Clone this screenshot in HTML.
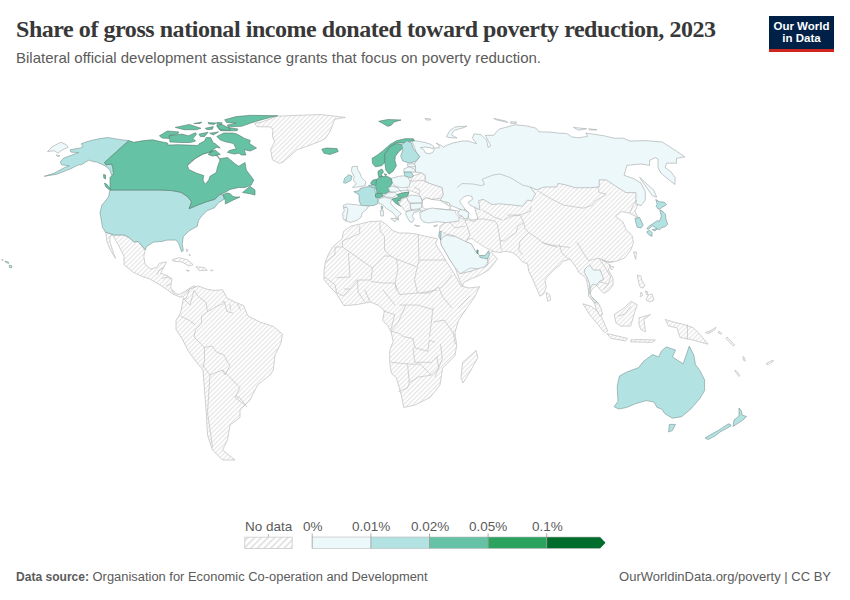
<!DOCTYPE html>
<html><head><meta charset="utf-8">
<style>
html,body{margin:0;padding:0;background:#fff;width:850px;height:600px;overflow:hidden;}
body{position:relative;font-family:"Liberation Sans",sans-serif;}
.t{position:absolute;white-space:nowrap;}
#title{left:16px;top:16px;font-family:"Liberation Serif",serif;font-weight:bold;font-size:24px;letter-spacing:-0.45px;color:#383838;}
#sub{left:16px;top:48.5px;font-size:15px;color:#5b5b5b;}
#logo{position:absolute;left:769px;top:16px;width:65px;height:36px;background:#002147;}
#logo .red{position:absolute;left:0;bottom:0;width:65px;height:3px;background:#ce261e;}
#logo .l1,#logo .l2{position:absolute;left:0;width:65px;text-align:center;color:#fff;font-weight:bold;font-size:11.5px;line-height:12px;}
#logo .l1{top:4px;}
#logo .l2{top:15.8px;}
#foot1{left:16px;top:569px;font-size:12.92px;color:#5b5b5b;}
#foot2{right:19px;top:569px;font-size:13px;color:#5b5b5b;}
.lg{position:absolute;font-size:13.5px;color:#5b5b5b;top:518.5px;}
svg{position:absolute;left:0;top:0;}
</style></head><body>
<div class="t" id="title">Share of gross national income donated toward poverty reduction, 2023</div>
<div class="t" id="sub">Bilateral official development assistance grants that focus on poverty reduction.</div>
<div id="logo"><div class="l1">Our World</div><div class="l2">in Data</div><div class="red"></div></div>

<svg width="850" height="600" viewBox="0 0 850 600">
<defs>
<pattern id="hatch" patternUnits="userSpaceOnUse" width="3.3" height="3.3" patternTransform="rotate(45)">
<rect width="3.3" height="3.3" fill="#fff"/>
<rect x="0" y="0" width="1.2" height="3.3" fill="#e6e6e6"/>
</pattern>
<pattern id="hatch2" patternUnits="userSpaceOnUse" width="4.7" height="4.7" patternTransform="rotate(45)">
<rect width="4.7" height="4.7" fill="#fff"/>
<rect x="0" y="0" width="1.8" height="4.7" fill="#e2e2e2"/>
</pattern>
</defs>
<g id="map" stroke-linejoin="round">
<path d="M254.7 123.3 L261.8 122.1 L277 116.2 L299.4 115.3 L320.6 114.5 L345.3 117.4 L334.7 119.2 L332.4 125.6 L330 131.5 L325.3 138.6 L318.2 142.1 L305.3 146.8 L297 149.8 L283 162.1 L279.4 163.3 L272.4 159.8 L270.6 149.2 L274.7 142.1 L272.4 136.2 L273 129.2 L270 126.8 L257 126.8 Z" fill="url(#hatch)" stroke="#bdbdbd" stroke-width="0.7"/>
<path d="M105.6 232.2 L114.1 235 L124 235 L129.7 237.9 L133.9 242.1 L138.1 241.4 L142.4 246.4 L145.2 249.9 L143.8 256.2 L145.2 264.7 L150.8 269 L156.5 267.5 L159.3 263.3 L166.4 261.9 L163.6 267.5 L160.7 273.2 L167.8 276 L172 278.8 L170.6 287.3 L173.4 293 L179.1 294.4 L184.7 291.6 L193.2 285.9 L198.9 287.3 L189.5 289 L183.5 296.5 L180.5 297.2 L173.4 294.4 L167.8 290.1 L159.3 284.5 L149.4 278.8 L141 276 L132.5 271.8 L124 264.7 L124 256.2 L118.4 245 L112.7 235 L110 236 L109.9 242.1 L112.7 250.6 L115.5 258.4 L114.1 256.2 L109.9 249.2 L107.1 242.1 Z" fill="url(#hatch)" stroke="#bdbdbd" stroke-width="0.7"/>
<path d="M172 259.8 L179.1 257.7 L187.6 259.8 L193.2 264.7 L189 266.1 L181.9 261.9 L173.4 261.2 Z" fill="url(#hatch)" stroke="#bdbdbd" stroke-width="0.7"/>
<path d="M196 266.8 L204.5 267.5 L207.3 270.4 L198.9 270.4 Z" fill="url(#hatch)" stroke="#bdbdbd" stroke-width="0.7"/>
<path d="M186.2 270 L189.5 270.5 L188 271.5 Z" fill="url(#hatch)" stroke="#bdbdbd" stroke-width="0.7"/>
<path d="M210.5 270 L213 270.2 L212 271.2 Z" fill="url(#hatch)" stroke="#bdbdbd" stroke-width="0.7"/>
<path d="M110 190 L160 190 L171.7 190.6 L181 192.3 L188 197 L191.5 201.7 L189.2 208.7 L197.3 205.2 L206.6 201.7 L214.8 199.3 L219.5 194.7 L223 194.7 L224.1 199.3 L218.3 202.8 L214.8 207.5 L206.6 211 L202 215.7 L198.5 220.3 L197.3 226.2 L189.2 230.8 L183.3 236.6 L182.2 243.6 L183.3 250.6 L181.6 251.8 L178.7 243.6 L176.3 240.1 L167 240.1 L162.1 241.4 L153.7 242.1 L146.6 246.4 L145.2 249.9 L142.4 246.4 L138.1 241.4 L133.9 242.1 L129.7 237.9 L124 235 L114.1 235 L105.6 232.2 L102.5 227.5 L100 212.5 L102 205 L108.5 197 L110 190 Z" fill="#b2e2e2" stroke="#7c9292" stroke-width="0.6"/>
<path d="M44.2 176.3 L54.1 173.3 L64.5 167.6 L69.2 165.8 L61.6 164.8 L60.2 162 L63.5 158.2 L71 155.4 L78.6 152.6 L71 152.1 L70.1 149.8 L80.5 147.9 L82.8 147 L81.4 143.6 L89.9 140.8 L100.2 138.5 L107.8 137.5 L118.75 139.4 L128.75 140.6 L104.5 162.5 L105.9 164.8 L111.5 163.9 L112.9 167.6 L113.4 172.4 L114.4 174.2 L111.5 175.2 L109.6 169.5 L105 165.8 L96.5 162 L92.7 161.5 L88.9 160.1 L81.4 164.8 L78.6 164.8 L71 168.6 L56.9 174.2 Z" fill="#b2e2e2" stroke="#7c9292" stroke-width="0.6"/>
<path d="M128.75 140.6 L133.75 142.25 L143.75 140.6 L152.5 139.75 L160.3 141.6 L167.4 142.9 L168.2 145.1 L178 144.7 L188.5 145.1 L198.2 145.5 L199.1 143.8 L204.4 141.1 L206.2 137.6 L210.6 137.6 L213.3 142.9 L215 143.5 L220.3 148 L216.8 147.3 L212.4 150 L208 153.5 L199.1 156.1 L190.3 162 L187.5 165.6 L195 158.75 L202.5 154.4 L208.75 152.5 L212.5 150 L220 158.75 L227.5 157.5 L235 163.75 L238.75 166.25 L245 162.5 L246.25 170 L250 175 L253.75 180 L251.25 185 L245 187.5 L238.75 187.5 L230 189.4 L225.3 192.3 L219.5 194.7 L214.8 199.3 L206.6 201.7 L197.3 205.2 L189.2 208.7 L191.5 201.7 L188 197 L181 192.3 L171.7 190.6 L160 190 L110 190 L110 185 L110 177.5 L113.75 173.75 L113.4 172.4 L112.9 167.6 L111.5 163.9 L105.9 164.8 L104.5 162.5 Z" fill="#66c2a4" stroke="#577a6e" stroke-width="0.6"/>
<path d="M187.5 165.6 L195 158.75 L202.5 154.4 L208.75 152.5 L217.5 156.25 L220 160 L217.5 166.9 L216.25 172.5 L210 176.25 L208.75 180 L205 184.4 L203 180 L203.75 175.6 L196.25 173.1 L188.75 169.4 Z" fill="#ffffff" stroke="#577a6e" stroke-width="0.6"/>
<path d="M242.5 192.5 L250 186.25 L255 190 L255 195 L250 193.75 Z" fill="#66c2a4" stroke="#577a6e" stroke-width="0.6"/>
<path d="M223 194.7 L227 193 L230 193.5 L232.3 196 L235 197 L240 197 L232.3 200.5 L225.3 204 L225.3 200.5 Z" fill="#66c2a4" stroke="#577a6e" stroke-width="0.6"/>
<path d="M224.7 119.7 L236.2 116.6 L250.3 115.3 L277.7 115.7 L269.7 117.5 L255.6 121.5 L250.3 123.2 L241.5 126.3 L228.2 126.8 L227.4 125 L236.2 123.2 L226.5 122.4 Z" fill="#66c2a4" stroke="#577a6e" stroke-width="0.6"/>
<path d="M216.8 125.9 L223.8 126.8 L237.9 129 L237.1 130.7 L220.3 130.7 L218.5 128.5 Z" fill="#66c2a4" stroke="#577a6e" stroke-width="0.6"/>
<path d="M216.8 122.4 L222.1 122.8 L221.2 124.6 L216.8 124.1 Z" fill="#66c2a4" stroke="#577a6e" stroke-width="0.6"/>
<path d="M216.8 136.5 L223.8 133 L232.7 133 L236.2 133.8 L239.7 135.6 L244.1 138.2 L250.3 140.4 L249.4 143.5 L256.5 148 L250.3 151 L244.1 149.7 L245.9 155 L241.5 155 L238.8 153.2 L234.4 154.1 L227.4 152.4 L229.1 150.6 L236.2 148.8 L233.5 143.5 L225.6 141.8 L220.3 140 Z" fill="#66c2a4" stroke="#577a6e" stroke-width="0.6"/>
<path d="M159.4 135.8 L167.4 131 L178.8 131.9 L178 133.6 L170 135.4 L169.1 138.5 L162.1 138 Z" fill="#66c2a4" stroke="#577a6e" stroke-width="0.6"/>
<path d="M169.1 135.8 L181.5 134.1 L188.5 135.8 L195.6 132.7 L196.5 134.1 L193 138.5 L195.6 141.1 L190.3 142.5 L181.5 142.5 L170 142 Z" fill="#66c2a4" stroke="#577a6e" stroke-width="0.6"/>
<path d="M175.3 127.4 L189.4 124.4 L200.9 128.3 L196.5 129.7 L184.1 129.7 L180.6 128.8 Z" fill="#66c2a4" stroke="#577a6e" stroke-width="0.6"/>
<path d="M193.8 123.5 L201.8 122.1 L200 123.5 Z" fill="#66c2a4" stroke="#577a6e" stroke-width="0.6"/>
<path d="M208 122.6 L215.9 123 L214.1 124.4 L208.8 123.9 Z" fill="#66c2a4" stroke="#577a6e" stroke-width="0.6"/>
<path d="M205.3 128.3 L213.3 126.6 L212.4 129.2 L207.1 129.7 Z" fill="#66c2a4" stroke="#577a6e" stroke-width="0.6"/>
<path d="M216.8 125.2 L222.1 124.4 L230 128.8 L230 130.5 L220.3 129.7 Z" fill="#66c2a4" stroke="#577a6e" stroke-width="0.6"/>
<path d="M199.1 134.1 L208 132.3 L204.4 136.7 L200 136.3 Z" fill="#66c2a4" stroke="#577a6e" stroke-width="0.6"/>
<path d="M209.7 133.2 L218.5 131.9 L213.3 135 Z" fill="#66c2a4" stroke="#577a6e" stroke-width="0.6"/>
<path d="M208 154.4 L215 150 L220.3 154.4 L212.4 156.1 Z" fill="#66c2a4" stroke="#577a6e" stroke-width="0.6"/>
<path d="M321.8 149.2 L326.5 148 L337 148.6 L338.2 151.5 L330 154.5 L324 153.3 Z" fill="#66c2a4" stroke="#577a6e" stroke-width="0.6"/>
<path d="M47.5 151.6 L52 147 L60.7 142.2 L66 144.5 L68.2 147.4 L62.6 149.8 L57.9 153.1 L54.1 150.7 Z" fill="#edf8fb" stroke="#9a9d9e" stroke-width="0.55"/>
<path d="M56 155 L60 155.5 L58 157 Z" fill="#edf8fb" stroke="#9a9d9e" stroke-width="0.55"/>
<path d="M104.5 183 L107 184.5 L110.5 189 L109.5 190 L105.5 186.5 Z" fill="#66c2a4" stroke="#577a6e" stroke-width="0.6"/>
<path d="M103.5 174.5 L105.5 175 L105.5 179 L103.8 178 Z" fill="#66c2a4" stroke="#577a6e" stroke-width="0.6"/>
<path d="M186 249 L188 250 L187 252 Z" fill="url(#hatch)" stroke="#bdbdbd" stroke-width="0.7"/>
<path d="M189 254 L190.5 255 L189.5 256 Z" fill="url(#hatch)" stroke="#bdbdbd" stroke-width="0.7"/>
<path d="M186.2 298.6 L189.5 289 L198.5 286 L206 289 L215 290.5 L222.5 289.7 L227 298 L236 302.5 L243.5 305.5 L248 316 L260 322 L273.4 326.5 L282.4 334 L281 343 L275 355 L273.4 370 L270 375 L257.5 385 L250 400 L240 410 L240 417.5 L230 425 L227.5 440 L222.5 450 L235 460 L222.5 460 L212.5 450 L207.5 435 L206.25 412.5 L203.75 380 L203 370 L195.5 361 L188 350.5 L182 338.5 L176 329.5 L176 320.5 L180.5 313 L183.5 298 Z" fill="url(#hatch)" stroke="#bdbdbd" stroke-width="0.7"/>
<path d="M351 226.2 L360 224 L369 221.7 L381 221 L385.5 224 L387.7 225.6 L393 230.8 L399.3 233 L407.8 233 L416.3 234 L424.7 236.1 L437.5 238.75 L435.5 243.75 L441 252.5 L447 262.5 L453.5 272.5 L458.5 281.25 L461 286 L469 288 L479.6 286.7 L474.3 297.6 L465.5 310 L458.5 320.6 L454.9 332.9 L456.7 345.3 L454.9 355.8 L442.6 368.2 L440.8 380 L440 385 L430 397.5 L415 405 L403.75 407.5 L401.25 395 L396.25 377.5 L391.4 373.5 L389.7 362.9 L389.7 350.5 L393.2 341.7 L391.4 332.9 L387.9 325.9 L382.6 320.6 L384.4 310.9 L379.1 305.6 L370.3 302 L356.2 304.7 L343.8 305.6 L336 293 L330 287 L324 279.5 L324 270.5 L325.5 261.5 L328.5 254 L333 246.5 L342 239 L343.5 231.5 Z" fill="url(#hatch)" stroke="#bdbdbd" stroke-width="0.7"/>
<path d="M462.5 362.5 L476.1 350.5 L477.9 357.6 L469 373.5 L463 383 L461 378 Z" fill="url(#hatch)" stroke="#bdbdbd" stroke-width="0.7"/>
<path d="M445 200 L445 176 L600 175 L645 195 L638 204 L635 211.5 L638 217.5 L629 213 L621.5 211.5 L615.5 216 L623 222 L626 229.5 L632 235.5 L633.5 243 L630.5 250.5 L624.5 258 L617 261 L609.5 262.5 L602 259.5 L610.7 265.3 L608.3 270 L613 278.2 L613 285.2 L608.3 291 L603.7 293.3 L600.2 289.8 L596.7 285.2 L591.25 290 L590 295 L595 300 L597.5 302.5 L600 306 L596 305 L590 297 L587.5 285 L586.25 278.75 L582.5 275 L578.75 272.5 L576.25 267.5 L572.5 262.5 L570 258.75 L567.5 260 L562.5 261.25 L560 265 L555 268.75 L548.75 275 L545 280 L546.25 287.5 L543.75 293.75 L540 296.25 L536.25 287.5 L532.5 278.75 L528.75 271.25 L527.5 263.75 L522.5 261.9 L517.5 256.25 L512.5 252.5 L505 251.25 L500 252.5 L491.25 251.25 L491.25 252.5 L497.5 258.75 L493.75 263.75 L488.75 270 L480 275 L471.25 278.75 L463.75 282.5 L462.5 286.25 L460 281.25 L455 267.5 L450 260 L445 251.25 L441.25 245 L439.4 231.9 L440 226 L445 223 L449.5 210 Z" fill="url(#hatch)" stroke="#bdbdbd" stroke-width="0.7"/>
<path d="M546.25 292.5 L550 295 L550.6 300 L547.5 301.25 Z" fill="url(#hatch)" stroke="#bdbdbd" stroke-width="0.7"/>
<path d="M633.5 252 L636.5 252 L635.7 259.5 Z" fill="url(#hatch)" stroke="#bdbdbd" stroke-width="0.7"/>
<path d="M609.5 265.5 L614 267 L611.7 270 Z" fill="url(#hatch)" stroke="#bdbdbd" stroke-width="0.7"/>
<path d="M466.25 241.9 L468 239 L472 238.6 L479 243.5 L486 248 L490 249.5 L492.5 251 L489 254 L485 255.6 L479.4 255.6 L476.25 252.5 L471.25 243.75 Z" fill="#ffffff" stroke="#bdbdbd" stroke-width="0.6"/>
<path d="M440.6 240 L443.75 236.25 L448.75 234.4 L455 236.25 L466.25 241.9 L471.25 243.75 L476.25 252.5 L480 255.6 L487.5 258.75 L488.1 263.75 L485 266.9 L477.5 268.75 L471.25 271.25 L465 272.5 L460 273.75 L455 267.5 L450 260 L445 251.25 L441.25 245 Z" fill="#edf8fb" stroke="#9a9d9e" stroke-width="0.55"/>
<path d="M479.4 255.6 L485 255.6 L488.75 250.6 L489.4 255 L487.5 258.75 L480 257.5 Z" fill="#b2e2e2" stroke="#7c9292" stroke-width="0.6"/>
<path d="M476.9 250 L478.1 250 L478.1 253.75 L476.9 253.1 Z" fill="#66c2a4" stroke="#577a6e" stroke-width="0.6"/>
<path d="M439.4 231.9 L441.25 231.25 L440.6 240 L438.75 236.25 Z" fill="#b2e2e2" stroke="#7c9292" stroke-width="0.6"/>
<path d="M412.1 140.5 L419.7 141.4 L425.6 142.6 L430.9 144.4 L433.8 146.7 L433.2 148.5 L426 147 L420.3 147.6 L423.8 149.6 L425 152.6 L428.5 153.8 L432.6 152.6 L433.8 150.8 L434.4 147.9 L439.1 147.9 L439.1 145.5 L436.2 143.2 L441.5 145.5 L443.2 147.3 L446.2 145.5 L452.7 143.1 L462.6 141 L468.2 141 L476.7 143.8 L472.5 138.1 L473.9 133.9 L481 134.6 L486.6 140.2 L488 147.3 L490.8 145.9 L485.2 135.3 L493.7 135.3 L496.5 131.8 L499.3 129 L507.8 126.8 L514.9 124.7 L521.9 125.4 L527.6 126.1 L536 128.2 L538.9 131.8 L550 132.1 L558.5 133.1 L566.9 133.5 L571.6 136.8 L578.2 137.8 L587.6 136.4 L585.8 133.1 L592.4 134 L604.6 135.9 L614 138.2 L623.4 138.2 L630 141.1 L645.3 140.6 L662.3 142 L676.5 151.2 L685 156.9 L676.5 158.3 L676.5 163.2 L666.6 163.2 L665.2 167.5 L670.8 171.7 L675 177.4 L675 184.5 L669.4 180.2 L660.9 173.2 L658 167.5 L658 159 L655.2 157.6 L649.6 160.4 L649.6 165.4 L641 164 L626.9 165.4 L624.1 175.3 L634 178.8 L641 183.1 L645.3 191.6 L645.3 200.1 L641 205.7 L635.9 203.9 L635.9 192.6 L626 192.6 L614.7 185.5 L606.3 179.9 L599.2 179.9 L599.2 187 L590.7 187.7 L575.2 187.7 L565.3 184.8 L558.2 183.4 L556.8 187 L544.1 187 L537 189.8 L530 187 L535.6 194 L531.4 201 L527.5 200 L522.5 206.25 L512.5 205 L500 203.8 L492 204.5 L483 199.3 L478.5 200.8 L480 209.8 L474.8 207.5 L468 210 L465 209 L462.8 211.3 L459.8 209 L450 205.3 L449.5 203 L440 200.4 L443.1 195.1 L442.1 187.7 L429.4 183.5 L425 181 L425 175.3 L421.9 173.1 L415.5 172.1 L415.5 166.8 L414.4 163.8 L416.2 161.4 L419.7 156.7 L416.2 152 L413.8 145.5 L412.1 142 Z" fill="#edf8fb" stroke="#9a9d9e" stroke-width="0.55"/>
<path d="M456.9 187.7 L462.2 183.5 L472.8 184 L481.3 185.6 L484.4 184.5 L482.3 179.2 L492.9 175 L500 174 L510 177.5 L522.5 185 L530 187" fill="none" stroke="#9a9d9e" stroke-width="0.5"/>
<path d="M446.4 136.7 L449.9 130.4 L455.5 126.8 L466.8 126.1 L464 127.5 L454.1 130.4 L451.3 134.6 L457 138.1 L448.5 137.4 Z" fill="#edf8fb" stroke="#9a9d9e" stroke-width="0.55"/>
<path d="M493.7 118.4 L506.4 121.2 L507.8 122.6 L496.5 119.8 Z" fill="#edf8fb" stroke="#9a9d9e" stroke-width="0.55"/>
<path d="M510.6 121.9 L516.3 121.9 L516.3 123.3 L510.6 123.3 Z" fill="#edf8fb" stroke="#9a9d9e" stroke-width="0.55"/>
<path d="M573.5 127.4 L586.7 128.8 L578.2 130.2 Z" fill="#edf8fb" stroke="#9a9d9e" stroke-width="0.55"/>
<path d="M588.6 128.8 L597 129.8 L590 130 Z" fill="#edf8fb" stroke="#9a9d9e" stroke-width="0.55"/>
<path d="M639.7 177.4 L653.8 190.2 L656.7 197.2 L652.4 195.8 L642.5 181.7 Z" fill="#edf8fb" stroke="#9a9d9e" stroke-width="0.55"/>
<path d="M459.8 200.8 L463.5 197 L467.3 195.5 L471.8 196.3 L472.5 199.3 L468 202.3 L470.3 205.3 L474.8 207.5 L476.3 213.5 L477.8 218 L475.5 221 L471.8 221 L468 217.3 L468.8 212.8 L465 209 L460.5 203 Z" fill="#ffffff" stroke="#9a9d9e" stroke-width="0.55"/>
<path d="M635 218.2 L639.5 217.5 L643.2 225 L641 228 L637.2 227.2 L635.7 222 Z" fill="#b2e2e2" stroke="#7c9292" stroke-width="0.6"/>
<path d="M655.75 199.5 L659.5 201.75 L664 202.1 L666.6 204.4 L664 206.25 L661.75 207.4 L659.9 209.25 L658 208.9 L656.1 206.25 L657.25 204 Z" fill="#b2e2e2" stroke="#7c9292" stroke-width="0.6"/>
<path d="M659.9 210 L662.5 211.1 L665.5 214.5 L665.9 219 L667.75 224.25 L665.5 226.5 L661 228 L659.5 229.9 L655.75 228 L652.75 225.75 L649.75 228 L648.25 229.5 L646.75 228.5 L649.75 225.75 L657.6 220.5 L659.5 221.25 L661.4 216 L660.25 212.25 Z" fill="#b2e2e2" stroke="#7c9292" stroke-width="0.6"/>
<path d="M646.75 231.75 L649.75 230.25 L652 232.5 L652 236.25 L649.75 235.5 L647.5 233.25 Z" fill="#b2e2e2" stroke="#7c9292" stroke-width="0.6"/>
<path d="M652 229.5 L657.25 228.75 L655 231 Z" fill="#b2e2e2" stroke="#7c9292" stroke-width="0.6"/>
<path d="M585 268.8 L589.7 264.8 L593.2 270 L600.2 270 L603.7 279.3 L599 281.7 L596.7 285.2 L593.2 284 L590.8 286.3 L589.7 293.3 L593.2 299.2 L597.8 302.7 L594.3 302.7 L588.5 295.7 L589.7 284 L587.3 278.2 L584.4 272.3 Z" fill="#edf8fb" stroke="#9a9d9e" stroke-width="0.55"/>
<path d="M425 118.5 L430 118.8 L431 120 L426 120 Z" fill="#edf8fb" stroke="#9a9d9e" stroke-width="0.55"/>
<path d="M359.7 226 L359.7 233.5 L342.5 241 L342.5 247 L335 247 L335 254.5 L326 262" fill="none" stroke="#bdbdbd" stroke-width="0.65"/>
<path d="M342.5 247 L372.5 268 L384.5 256 L390.5 256 L384.5 250 L384.5 236.5 L380 230.5 L380 223" fill="none" stroke="#bdbdbd" stroke-width="0.65"/>
<path d="M348.5 253 L350 277 L336.5 277.7" fill="none" stroke="#bdbdbd" stroke-width="0.65"/>
<path d="M372.5 268 L371 280 L357.5 280 L350 289 L344 289" fill="none" stroke="#bdbdbd" stroke-width="0.65"/>
<path d="M390.5 256 L396.5 259 L416 266.5" fill="none" stroke="#bdbdbd" stroke-width="0.65"/>
<path d="M396.5 259 L398 269.5 L395 283 L396.5 290.5" fill="none" stroke="#bdbdbd" stroke-width="0.65"/>
<path d="M418.2 234.5 L419 260 L446 260" fill="none" stroke="#bdbdbd" stroke-width="0.65"/>
<path d="M419 260 L417.5 266 L414.5 279.5 L417.5 293" fill="none" stroke="#bdbdbd" stroke-width="0.65"/>
<path d="M371 281.5 L383 283 L395 283" fill="none" stroke="#bdbdbd" stroke-width="0.65"/>
<path d="M324.5 277 L335 284.5 L336.5 292" fill="none" stroke="#bdbdbd" stroke-width="0.65"/>
<path d="M395 284 L399.5 294.5 L417.5 293 L429.5 293 L438.5 287 L443 297.5 L452 308" fill="none" stroke="#bdbdbd" stroke-width="0.65"/>
<path d="M420.5 293 L437 290" fill="none" stroke="#bdbdbd" stroke-width="0.65"/>
<path d="M452 275 L444.5 284 L440 288.5" fill="none" stroke="#bdbdbd" stroke-width="0.65"/>
<path d="M470 296 L458 308" fill="none" stroke="#bdbdbd" stroke-width="0.65"/>
<path d="M383 290 L395 305" fill="none" stroke="#bdbdbd" stroke-width="0.65"/>
<path d="M399.5 305 L417.5 305 L432.5 309.5" fill="none" stroke="#bdbdbd" stroke-width="0.65"/>
<path d="M383.7 311 L394.7 314.7 L391 329.3" fill="none" stroke="#bdbdbd" stroke-width="0.65"/>
<path d="M405.7 305.5 L398.3 322 L391 331.2 L398.3 333 L403.8 336.7 L413 338.5 L414.8 347.7 L427.7 351.3 L429.5 340.3 L435 342.2" fill="none" stroke="#bdbdbd" stroke-width="0.65"/>
<path d="M433.2 307.3 L431.3 322 L429.5 336.7" fill="none" stroke="#bdbdbd" stroke-width="0.65"/>
<path d="M433.2 322 L444.2 320.2 L453.3 333 L455.2 344" fill="none" stroke="#bdbdbd" stroke-width="0.65"/>
<path d="M391 362.3 L411.2 364.2 L420.3 364.2" fill="none" stroke="#bdbdbd" stroke-width="0.65"/>
<path d="M413 347.7 L414.8 362.3 L431.3 362.3 L438.7 355" fill="none" stroke="#bdbdbd" stroke-width="0.65"/>
<path d="M407.5 364.2 L409.3 382.5 L407.5 388 L398.3 391.7" fill="none" stroke="#bdbdbd" stroke-width="0.65"/>
<path d="M409.3 382.5 L418.5 377 L431.3 375.2" fill="none" stroke="#bdbdbd" stroke-width="0.65"/>
<path d="M420.3 364.2 L431.3 375.2 L438.7 367.8 L436.8 356.8" fill="none" stroke="#bdbdbd" stroke-width="0.65"/>
<path d="M440.5 344 L442.3 358.7 L435 377" fill="none" stroke="#bdbdbd" stroke-width="0.65"/>
<path d="M357.5 280 L358 292 L365 302" fill="none" stroke="#bdbdbd" stroke-width="0.65"/>
<path d="M365 290 L370 302" fill="none" stroke="#bdbdbd" stroke-width="0.65"/>
<path d="M336 292 L343 296 L350 289" fill="none" stroke="#bdbdbd" stroke-width="0.65"/>
<path d="M194 290.5 L198.5 296.5 L206 302.5 L207.5 311.5 L213.5 308.5 L215 307 L222.5 304 L224 301 L227 311.5 L233 313" fill="none" stroke="#bdbdbd" stroke-width="0.65"/>
<path d="M230 304 L230.5 310" fill="none" stroke="#bdbdbd" stroke-width="0.65"/>
<path d="M237.5 304 L240.5 310" fill="none" stroke="#bdbdbd" stroke-width="0.65"/>
<path d="M207.5 311.5 L201.5 316 L201.5 323.5 L195.5 329.5" fill="none" stroke="#bdbdbd" stroke-width="0.65"/>
<path d="M180.5 316 L189.5 320.5 L195.5 325" fill="none" stroke="#bdbdbd" stroke-width="0.65"/>
<path d="M195.5 329.5 L194 337 L201.5 344.5 L204.5 347.5 L212 346 L216.5 352 L224 355 L227 361 L230 365.5" fill="none" stroke="#bdbdbd" stroke-width="0.65"/>
<path d="M204.5 347.5 L204.5 361 L203 367" fill="none" stroke="#bdbdbd" stroke-width="0.65"/>
<path d="M230 365.5 L225 375 L222.5 370 L210 375" fill="none" stroke="#bdbdbd" stroke-width="0.65"/>
<path d="M202.5 365 L210 375 L207.5 412.5 L212.5 447.5" fill="none" stroke="#bdbdbd" stroke-width="0.65"/>
<path d="M222.5 370 L240 387.5 L235 397.5 L245 405" fill="none" stroke="#bdbdbd" stroke-width="0.65"/>
<path d="M236 396 L240 398 L247 407" fill="none" stroke="#bdbdbd" stroke-width="0.65"/>
<path d="M183 298 L190 305 L194 290.5" fill="none" stroke="#bdbdbd" stroke-width="0.65"/>
<path d="M538.5 191.2 L549.8 198.2 L563.9 205.3 L583.7 208.1 L592.1 205.3 L595 201 L604.9 195.4 L606.3 194 L599.2 192.6 L597.8 187" fill="none" stroke="#bdbdbd" stroke-width="0.65"/>
<path d="M482.5 210 L495 217.5 L502.5 220" fill="none" stroke="#bdbdbd" stroke-width="0.65"/>
<path d="M470 220 L482.5 218.75 L495 221.25 L497.5 225 L500 240 L503.75 241.25 L508.75 237.5 L516.25 232.5 L517.5 226.25 L523.75 222.5 L520 215 L511.25 216.25 L503.75 220" fill="none" stroke="#bdbdbd" stroke-width="0.65"/>
<path d="M507.5 215 L520 215 L523.75 213.75 L530 211.25 L531.25 206.25" fill="none" stroke="#bdbdbd" stroke-width="0.65"/>
<path d="M500 240 L501.25 250" fill="none" stroke="#bdbdbd" stroke-width="0.65"/>
<path d="M523.75 222.5 L525 228.75 L528.75 232.5 L520 241.25 L518.75 250 L522.5 255" fill="none" stroke="#bdbdbd" stroke-width="0.65"/>
<path d="M528.75 232.5 L536.25 237.5 L542.5 242.5 L551.25 245 L560 246.25 L570 247.5" fill="none" stroke="#bdbdbd" stroke-width="0.65"/>
<path d="M542.5 242.5 L545 243.75 L557.5 247.5" fill="none" stroke="#bdbdbd" stroke-width="0.65"/>
<path d="M576.8 242 L583.8 253.7 L588.5 260.7 L593.2 259.5 L599 258.3 L606 261.8 L613 261.8" fill="none" stroke="#bdbdbd" stroke-width="0.65"/>
<path d="M599 258.3 L606 268.8 L610.7 277 L608.3 284" fill="none" stroke="#bdbdbd" stroke-width="0.65"/>
<path d="M599 281.7 L608.3 284 L603.7 289.8" fill="none" stroke="#bdbdbd" stroke-width="0.65"/>
<path d="M559.3 244.3 L561.7 252.5 L568.7 259.5" fill="none" stroke="#bdbdbd" stroke-width="0.65"/>
<path d="M449.5 222 L455 228 L465 226" fill="none" stroke="#bdbdbd" stroke-width="0.65"/>
<path d="M459 217 L465 220 L470 220" fill="none" stroke="#bdbdbd" stroke-width="0.65"/>
<path d="M465 220 L470 235 L466 242" fill="none" stroke="#bdbdbd" stroke-width="0.65"/>
<path d="M443 232 L449 236 L455 236.25" fill="none" stroke="#bdbdbd" stroke-width="0.65"/>
<path d="M460 273.75 L470 268 L477.5 268.75" fill="none" stroke="#bdbdbd" stroke-width="0.65"/>
<path d="M485 266.9 L490 258" fill="none" stroke="#bdbdbd" stroke-width="0.65"/>
<path d="M630 213 L633 205 L637 200" fill="none" stroke="#bdbdbd" stroke-width="0.65"/>
<path d="M157 275 L159 270 L163.6 267.5" fill="none" stroke="#bdbdbd" stroke-width="0.65"/>
<path d="M162 278.5 L167 277 L171 279" fill="none" stroke="#bdbdbd" stroke-width="0.65"/>
<path d="M170.6 284 L166 286" fill="none" stroke="#bdbdbd" stroke-width="0.65"/>
<path d="M172 290 L175 292" fill="none" stroke="#bdbdbd" stroke-width="0.65"/>
<path d="M409.2 181.4 L411.3 184.8 L425 183.7 L425 175.3 L421.9 173.1 L413.4 175.8 L410.2 181.6 Z" fill="url(#hatch)" stroke="#bdbdbd" stroke-width="0.7"/>
<path d="M407 186 L409.2 181.4 L422 180.3 L429.4 183.5 L442.1 187.7 L443.1 195.1 L440 198.3 L431.5 199.4 L426.2 197.8 L422.5 200.4 L418.8 194.1 L411.4 190.9 L407.1 190.9 Z" fill="url(#hatch)" stroke="#bdbdbd" stroke-width="0.7"/>
<path d="M401.4 199.1 L408.9 197 L410 207.5 L406.7 210.7 L402.5 207.5 Z" fill="url(#hatch)" stroke="#bdbdbd" stroke-width="0.7"/>
<path d="M422.5 200.4 L426.2 197.8 L431.5 199.4 L440 200.4 L445.3 203.6 L450.5 206.8 L449.5 210 L440 208.9 L431.5 209.4 L424 208.9 L422 205.7 Z" fill="#ffffff" stroke="#9a9d9e" stroke-width="0.55"/>
<path d="M419.7 212.3 L428.3 209 L432.3 208 L439 209 L449.5 210 L455 210.5 L457.5 213 L459 217.4 L459 221 L454.8 221.6 L445.3 222.7 L437.7 221.7 L428.3 223 L423 221.7 L420.3 217.7 Z" fill="#edf8fb" stroke="#9a9d9e" stroke-width="0.55"/>
<path d="M419 209.7 L423 210.3 L421.7 212.3 Z" fill="#edf8fb" stroke="#9a9d9e" stroke-width="0.55"/>
<path d="M372.1 158.3 L377.4 155.1 L382.7 150.9 L390.1 144.5 L396.4 140.8 L404.9 138.7 L413.4 138.7 L414.4 140.8 L409.2 141.4 L402.8 142.9 L396.4 142.9 L390.1 146.7 L384.8 154.1 L384.8 162.5 L381.6 165.7 L375.3 166.8 L372.6 163.6 Z" fill="#66c2a4" stroke="#577a6e" stroke-width="0.6"/>
<path d="M384.8 154.1 L390.1 146.7 L396.4 143.5 L401.7 144.5 L402.8 148.2 L398.6 151.9 L395.4 156.2 L394.9 160.4 L396.4 165.7 L393.3 171 L389 174.2 L385.8 170 L384.8 162.5 Z" fill="#66c2a4" stroke="#577a6e" stroke-width="0.6"/>
<path d="M401.7 144.5 L407 140.8 L411.3 142.9 L413.4 148.8 L419.7 156.7 L415.5 161.5 L409.2 163.1 L402.8 161 L400.7 156.2 L402.8 149.8 Z" fill="#b2e2e2" stroke="#7c9292" stroke-width="0.6"/>
<path d="M378.2 171 L382 169 L383.5 172 L381.5 174.5 L382.5 176.8 L378.8 177.2 L378 174 Z" fill="#66c2a4" stroke="#577a6e" stroke-width="0.6"/>
<path d="M384.3 173.7 L386.9 174.7 L385.3 175.8 Z" fill="#66c2a4" stroke="#577a6e" stroke-width="0.6"/>
<path d="M378.75 121.25 L388 119.5 L401 120 L394 122 L391 125.5 L387.5 126.25 L382 123 Z" fill="#66c2a4" stroke="#577a6e" stroke-width="0.6"/>
<path d="M352 166.8 L357.2 166.2 L357.8 170 L359.9 173.1 L361.5 177.4 L365.7 181.6 L365.2 185.8 L358.3 186.9 L352.5 187.4 L356.2 183.7 L353.5 180.5 L354.1 176.3 L351.4 171 Z" fill="#edf8fb" stroke="#9a9d9e" stroke-width="0.55"/>
<path d="M344.5 178.4 L348.8 174.7 L352 176.3 L350.9 180.5 L345.6 183.2 L343.5 182.7 Z" fill="#b2e2e2" stroke="#7c9292" stroke-width="0.6"/>
<path d="M407 164.1 L414.4 163.6 L415.5 166.8 L408.1 166.8 Z" fill="#edf8fb" stroke="#9a9d9e" stroke-width="0.55"/>
<path d="M403.9 168.9 L409.2 166.8 L414.4 168.9 L415.5 172.1 L403.9 172.1 Z" fill="#edf8fb" stroke="#9a9d9e" stroke-width="0.55"/>
<path d="M403.9 172.1 L411.3 172.1 L413.4 175.8 L410.2 177.9 L404.9 175.8 Z" fill="#b2e2e2" stroke="#7c9292" stroke-width="0.6"/>
<path d="M391.1 178.4 L398.6 176.3 L403.9 175.8 L408.1 177.4 L410.2 181.6 L409.2 186.9 L401.7 188 L394.3 185.8 L392.2 182.7 Z" fill="#edf8fb" stroke="#9a9d9e" stroke-width="0.55"/>
<path d="M376.3 179.5 L380.5 176.8 L386.9 176.3 L391.1 178.4 L392.2 182.7 L390.1 186.9 L390.1 191.1 L384.8 193.8 L377.4 193.8 L375.8 188 L375.3 182.7 Z" fill="#66c2a4" stroke="#577a6e" stroke-width="0.6"/>
<path d="M370.5 183 L373 180 L376.3 179.5 L376 184.5 L375 185.5 L372 185 Z" fill="#66c2a4" stroke="#577a6e" stroke-width="0.6"/>
<path d="M368.5 185.3 L372 185 L375 185.5 L376 187.5 L374.5 188.5 L371.5 188 Z" fill="#b2e2e2" stroke="#7c9292" stroke-width="0.6"/>
<path d="M353.8 191.7 L359.6 190.6 L360.1 188.5 L368.6 186.4 L375 187.9 L375 191.7 L378.1 193.8 L375.5 197 L378.1 199.1 L377.6 203.8 L373.9 205.4 L368.6 206 L361.2 205.4 L359.1 200.7 L359.1 194.8 Z" fill="#b2e2e2" stroke="#7c9292" stroke-width="0.6"/>
<path d="M381.3 206 L382.9 206.5 L382.4 209.7 L381.3 209.1 Z" fill="#b2e2e2" stroke="#7c9292" stroke-width="0.6"/>
<path d="M388.2 188 L391.9 185.8 L398.3 188 L399.9 190.6 L395.1 192.2 L389.8 191.7 Z" fill="#edf8fb" stroke="#9a9d9e" stroke-width="0.55"/>
<path d="M399.9 190.6 L407.8 190.1 L408.9 192.2 L402.5 193.2 Z" fill="#edf8fb" stroke="#9a9d9e" stroke-width="0.55"/>
<path d="M383.4 195.9 L388.7 192.7 L395.1 192.2 L397.2 194.8 L393 197.5 L385.6 197 Z" fill="#edf8fb" stroke="#9a9d9e" stroke-width="0.55"/>
<path d="M375.5 193.8 L381.3 193.2 L383.4 195.9 L379.2 198 L375.5 197 Z" fill="#66c2a4" stroke="#577a6e" stroke-width="0.6"/>
<path d="M397.2 194.3 L403.6 192.7 L408.9 192.2 L407.8 195.9 L403.6 198 L398.3 197 Z" fill="#66c2a4" stroke="#577a6e" stroke-width="0.6"/>
<path d="M391.9 199.1 L397.2 197.5 L402.5 199.1 L401.4 201.2 L397.2 200.7 L399.3 204.4 L401.4 206.5 L397.2 204.4 L394 201.7 Z" fill="#66c2a4" stroke="#577a6e" stroke-width="0.6"/>
<path d="M378.1 199.1 L384.5 197 L391.9 199.1 L390.3 202.8 L394 207.5 L399.3 211.8 L401.4 213.9 L398.3 216 L398.3 220.3 L396.1 217.1 L393 212.8 L386.6 208.6 L382.4 204.4 L379.2 203.8 Z" fill="#edf8fb" stroke="#9a9d9e" stroke-width="0.55"/>
<path d="M390.8 218.7 L397.7 218.1 L395.1 221.8 Z" fill="#edf8fb" stroke="#9a9d9e" stroke-width="0.55"/>
<path d="M380.3 210.7 L383.4 210.7 L383.4 216 L380.8 216 Z" fill="#edf8fb" stroke="#9a9d9e" stroke-width="0.55"/>
<path d="M343.2 205.4 L347.4 203.8 L361.2 205.4 L368.6 206 L366.5 209.7 L362.2 212.8 L361.2 217.1 L357 220.3 L350.6 222.4 L345.3 220.8 L344.2 217.6 L347.4 211.8 L346.4 207 L343.7 208.1 Z" fill="#edf8fb" stroke="#9a9d9e" stroke-width="0.55"/>
<path d="M343.7 208.1 L346.4 207 L348 209.1 L346.9 215 L346.4 220.3 L343.2 219.2 L342.6 213.9 L344.2 210.7 Z" fill="#edf8fb" stroke="#9a9d9e" stroke-width="0.55"/>
<path d="M401.4 199.1 L406.3 197 L408.3 201 L410.3 203.7 L410.3 206.3 L411 209.7 L406.3 211.7 L404 210 L402.5 207.5 L399 204 Z" fill="url(#hatch)" stroke="#bdbdbd" stroke-width="0.7"/>
<path d="M406.3 197 L411.7 195 L420.3 196.3 L422.3 201.7 L421.7 203 L410.3 203 L408.3 201 Z" fill="#edf8fb" stroke="#9a9d9e" stroke-width="0.55"/>
<path d="M410.3 203.7 L421.7 203 L421.7 207.7 L418.3 209 L411 209.7 L410.3 206.3 Z" fill="#edf8fb" stroke="#9a9d9e" stroke-width="0.55"/>
<path d="M406.3 211.7 L411 210.3 L415 211 L418.3 209.3 L419 211 L413.7 213 L412.3 216.3 L414.3 219 L412.3 222.3 L409.7 221.7 L407 217 L405.7 213.7 Z" fill="#edf8fb" stroke="#9a9d9e" stroke-width="0.55"/>
<path d="M414.3 225 L419.7 226 L417 226.5 Z" fill="#edf8fb" stroke="#9a9d9e" stroke-width="0.55"/>
<path d="M433.7 225.7 L437.7 225 L435 227 Z" fill="#edf8fb" stroke="#9a9d9e" stroke-width="0.55"/>
<path d="M460 209.5 L463.5 210 L469 212.5 L468 218 L465 219 L462 216 L459 215.5 L457.5 213 Z" fill="#edf8fb" stroke="#9a9d9e" stroke-width="0.55"/>
<path d="M450 207.5 L452.5 206 L460 209.5 L459 211.5 L455 210.5 L451 209.5 Z" fill="#ffffff" stroke="#bdbdbd" stroke-width="0.6"/>
<path d="M455 210.5 L459 211.5 L457.5 213 L459 215.5 L462 216 L459 217.5 L456 214 Z" fill="#ffffff" stroke="#bdbdbd" stroke-width="0.6"/>
<path d="M418.8 194.1 L420 190 L414 187" fill="none" stroke="#bdbdbd" stroke-width="0.65"/>
<path d="M614.1 406.7 L618 401.3 L617.2 386 L619.5 376 L626.4 372.2 L638.7 367.6 L643.3 361.5 L652.5 354.6 L658.6 356.9 L661.7 350.7 L666.3 346.9 L675.5 350 L672.4 356.9 L683.2 363.8 L689.3 346.1 L693.9 355.3 L695.4 364.5 L700 370.7 L704.6 379.9 L704.6 390.6 L700 398.3 L690.8 409 L681.6 416.7 L672.4 418.2 L664.7 413.6 L661.7 409 L657.1 407.5 L654 402.1 L646.3 400.6 L635.6 403.7 L626.4 407.5 L618.7 409 Z" fill="#b2e2e2" stroke="#7c9292" stroke-width="0.6"/>
<path d="M669.3 424.4 L675.5 424.4 L672.4 430.5 L668.6 432 Z" fill="#b2e2e2" stroke="#7c9292" stroke-width="0.6"/>
<path d="M739 408 L741.5 411 L742 415 L746.5 416.5 L743 420 L733 426.5 L734 420 L739 416 L739 413 Z" fill="#b2e2e2" stroke="#7c9292" stroke-width="0.6"/>
<path d="M730 424 L731 426 L720 432 L715 436 L708 439.5 L705 438 L710 435 L719 430 L728 424 Z" fill="#b2e2e2" stroke="#7c9292" stroke-width="0.6"/>
<path d="M583 303.8 L591.2 306.3 L599.4 312.9 L602.7 319.5 L607.7 331 L604.4 332.7 L597.8 324.4 L589.5 314.5 Z" fill="url(#hatch)" stroke="#bdbdbd" stroke-width="0.7"/>
<path d="M606.8 333.5 L617.5 336 L627.4 338.4 L625.8 340.9 L611 338.4 Z" fill="url(#hatch)" stroke="#bdbdbd" stroke-width="0.7"/>
<path d="M614.2 314.5 L624.1 308 L630.7 301.4 L637.3 304.7 L634 314.5 L630.7 326.1 L620.8 326.1 L615.9 322.8 Z" fill="url(#hatch)" stroke="#bdbdbd" stroke-width="0.7"/>
<path d="M639 317.8 L650.5 314.5 L643.9 319.5 L645.5 331.8 L640.6 329.4 L639 324.4 Z" fill="url(#hatch)" stroke="#bdbdbd" stroke-width="0.7"/>
<path d="M665.3 319.5 L673.6 322 L683.4 324.4 L693.3 327.7 L699.9 334.3 L708.1 344.2 L701.6 342.5 L690 339.3 L680.1 337.6 L676.8 327.7 L668.6 326.1 Z" fill="url(#hatch)" stroke="#bdbdbd" stroke-width="0.7"/>
<path d="M637.3 275 L641 276 L642 281 L645 285 L643 288 L640 287 L638.5 282 Z" fill="url(#hatch)" stroke="#bdbdbd" stroke-width="0.7"/>
<path d="M645 291 L648 292 L647 295 Z" fill="url(#hatch)" stroke="#bdbdbd" stroke-width="0.7"/>
<path d="M648 295 L652 294 L654 300 L650 302 L646 300 Z" fill="url(#hatch)" stroke="#bdbdbd" stroke-width="0.7"/>
<path d="M641 292 L643 295 L640 297 Z" fill="url(#hatch)" stroke="#bdbdbd" stroke-width="0.7"/>
<path d="M594.5 303 L598 302.7 L601 308 L602.7 314.5 L600 316 L596 309 Z" fill="url(#hatch)" stroke="#bdbdbd" stroke-width="0.7"/>
<path d="M630.7 340 L640 339.5 L655.4 340 L652 342.5 L640 342 L631 342 Z" fill="url(#hatch)" stroke="#bdbdbd" stroke-width="0.7"/>
<path d="M1.8 259.6 L3 259.8 L2.8 260.6 Z" fill="#b2e2e2" stroke="#7c9292" stroke-width="0.6"/>
<path d="M5 261 L9 262.5 L8.5 263.5 L5.5 262 Z" fill="#b2e2e2" stroke="#7c9292" stroke-width="0.6"/>
<path d="M9.5 265 L12 266 L11.5 267.8 L9.3 267.5 Z" fill="#b2e2e2" stroke="#7c9292" stroke-width="0.6"/>
<path d="M705.3 332.7 L710 331 L716 327.3 L715 329.5 L709 333.5 Z" fill="url(#hatch)" stroke="#bdbdbd" stroke-width="0.7"/>
<path d="M718.7 331.3 L722 333.5 L721 334.5 L718 332.5 Z" fill="url(#hatch)" stroke="#bdbdbd" stroke-width="0.7"/>
<path d="M727 337 L734.7 345 L733 346 L726 338.5 Z" fill="url(#hatch)" stroke="#bdbdbd" stroke-width="0.7"/>
<path d="M742.7 356.7 L744 357 L745.3 360.7 L744 361 Z" fill="url(#hatch)" stroke="#bdbdbd" stroke-width="0.7"/>
<path d="M734.7 370.7 L736 370.5 L740 375.5 L739 376.5 Z" fill="url(#hatch)" stroke="#bdbdbd" stroke-width="0.7"/>
<path d="M767 363 L773.3 360 L773 361.5 L768 364.7 L766.5 364.5 Z" fill="url(#hatch)" stroke="#bdbdbd" stroke-width="0.7"/>
<path d="M687.5 324.5 L687.5 339.5" fill="none" stroke="#bdbdbd" stroke-width="0.65"/>
<path d="M618 316 L625 314 L631 306" fill="none" stroke="#bdbdbd" stroke-width="0.65"/>
</g>
<!-- legend -->
<g id="legend">
<rect x="244.7" y="537.2" width="47.5" height="11.3" fill="url(#hatch2)" stroke="#cfcfcf" stroke-width="0.9"/>
<line x1="268.4" y1="534" x2="268.4" y2="537" stroke="#aaa" stroke-width="0.8"/>
<rect x="312.2" y="537" width="58.7" height="11.5" fill="#edf8fb"/>
<rect x="370.9" y="537" width="58.6" height="11.5" fill="#b2e2e2"/>
<rect x="429.5" y="537" width="58.6" height="11.5" fill="#66c2a4"/>
<rect x="488.1" y="537" width="58.6" height="11.5" fill="#2ca25f"/>
<path d="M546.7 537 H600 L605.5 542.75 L600 548.5 H546.7 Z" fill="#006d2c"/>
<path d="M312.2 537 H600 M312.2 548.5 H600" stroke="#bbb" stroke-width="0.6" fill="none"/>
<path d="M312.2 533.5 V548.5 M370.9 533.5 V548.5 M429.5 533.5 V548.5 M488.1 533.5 V548.5 M546.7 533.5 V548.5" stroke="#999" stroke-width="0.8" fill="none"/>
</g>
</svg>
<div class="t lg" style="left:245px;">No data</div>
<div class="t lg" style="left:303px;">0%</div>
<div class="t lg" style="left:352px;">0.01%</div>
<div class="t lg" style="left:411px;">0.02%</div>
<div class="t lg" style="left:469px;">0.05%</div>
<div class="t lg" style="left:532px;">0.1%</div>

<div class="t" id="foot1"><b style="font-size:12.05px">Data source:</b> Organisation for Economic Co-operation and Development</div>
<div class="t" id="foot2">OurWorldinData.org/poverty | CC BY</div>
</body></html>
